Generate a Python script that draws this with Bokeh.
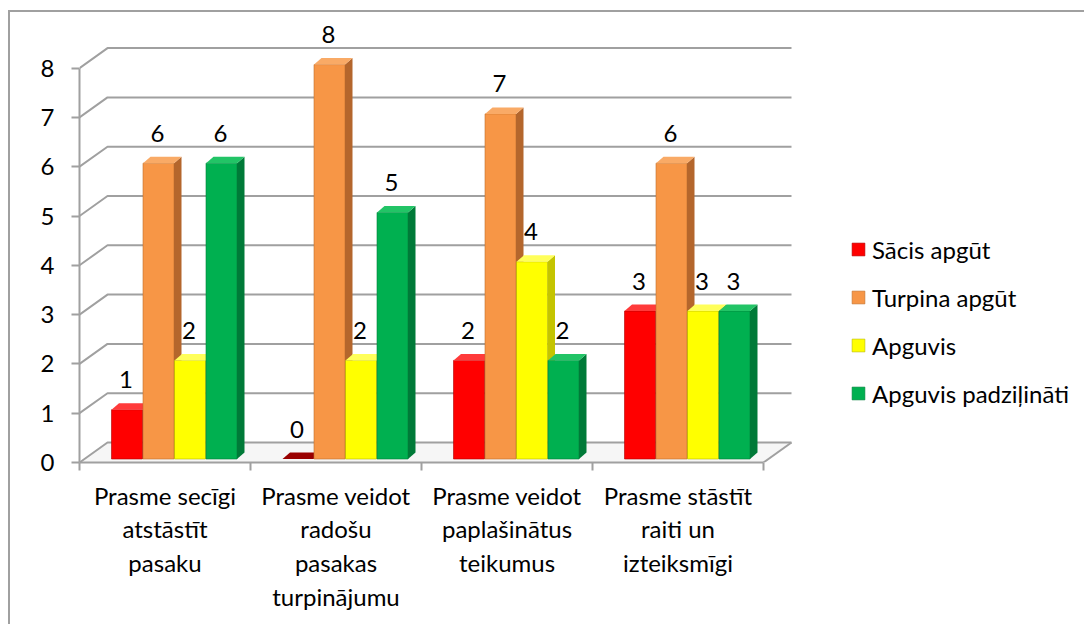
from bokeh.plotting import figure
from bokeh.models import Range1d, FixedTicker, Legend, LegendItem
from bokeh.core.properties import value
from bokeh.embed import file_html
from bokeh.resources import INLINE

# ---------------- data ----------------
categories = [
    "Prasme secīgi\natstāstīt\npasaku",
    "Prasme veidot\nradošu\npasakas\nturpinājumu",
    "Prasme veidot\npaplašinātus\nteikumus",
    "Prasme stāstīt\nraiti un\nizteiksmīgi",
]
series_names = ["Sācis apgūt", "Turpina apgūt", "Apguvis", "Apguvis padziļināti"]
sacis_apgut = [1, 0, 2, 3]
turpina_apgut = [6, 8, 7, 6]
apguvis = [2, 2, 4, 3]
apguvis_padzilinati = [6, 5, 2, 3]
y_ticks = [0, 1, 2, 3, 4, 5, 6, 7, 8]

series_values = [sacis_apgut, turpina_apgut, apguvis, apguvis_padzilinati]
front_colors = ["#FF0000", "#F79646", "#FFFF00", "#00B050"]
side_colors = ["#C00000", "#B4662C", "#C4C400", "#007A38"]
top_colors = ["#FF3A3A", "#F9AA66", "#FFFF5A", "#22C466"]
edge_colors = ["#B00000", "#C0702E", "#B8B800", "#00803A"]
zero_color = "#990000"

# ---------------- geometry (pixel scales) ----------------
PX_X = 171.0    # px per category
PX_Y = 49.3     # px per unit
DX = 28.0 / PX_X        # wall depth
DY = 20.0 / PX_Y
BDX = 7.5 / PX_X        # bar depth
BDY = 6.5 / PX_Y
B0 = 3.5 / PX_Y         # bar base lift
BAR_W = 31.0 / PX_X
BAR_OFF = 32.0 / PX_X
BAR_PITCH = 31.5 / PX_X
NCAT = len(categories)

W, H = 1076, 614
ML, MB = 69, 164
frame_w = W - ML
frame_h = H - MB

p = figure(width=W, height=H, output_backend="svg", toolbar_location=None,
           x_range=Range1d(0, frame_w / PX_X), y_range=Range1d(0, frame_h / PX_Y),
           min_border_left=ML, min_border_bottom=MB, min_border_top=0, min_border_right=0)
p.styles = {"border-top": "2px solid #A0A0A0", "border-left": "2px solid #A0A0A0",
            "margin-top": "10px", "margin-left": "8px"}
p.outline_line_color = None
p.xgrid.visible = False
p.ygrid.visible = False
p.background_fill_color = "white"
p.border_fill_color = "white"

GRID = "#A0A0A0"

# floor
p.patch([0, NCAT, NCAT + DX, DX], [0, 0, DY, DY], fill_color="#F6F6F6", line_color=None)
p.line([NCAT, NCAT + DX], [0, DY], line_color=GRID, line_width=2)

# wall gridlines
gx = [[0, DX, NCAT + DX] for _ in y_ticks]
gy = [[k, k + DY, k + DY] for k in y_ticks]
p.multi_line(gx, gy, line_color=GRID, line_width=2)

# bars
legend_items = []
for j, vals in enumerate(series_values):
    lefts = [i + BAR_OFF + j * BAR_PITCH for i in range(NCAT)]
    rights = [l + BAR_W for l in lefts]
    tops = [B0 + v for v in vals]
    nz = [i for i in range(NCAT) if vals[i] > 0]
    # front faces
    r = p.quad(left=[lefts[i] for i in nz], right=[rights[i] for i in nz],
               bottom=[B0] * len(nz), top=[tops[i] for i in nz],
               fill_color=front_colors[j], line_color=edge_colors[j], line_width=0.6)
    legend_items.append(LegendItem(label=series_names[j], renderers=[r], index=0))
    # side faces
    sx = [[rights[i], rights[i] + BDX, rights[i] + BDX, rights[i]] for i in nz]
    sy = [[B0, B0 + BDY, tops[i] + BDY, tops[i]] for i in nz]
    p.patches(sx, sy, fill_color=side_colors[j], line_color=None)
    # top faces
    tx = [[lefts[i], rights[i], rights[i] + BDX, lefts[i] + BDX] for i in range(NCAT)]
    ty = [[tops[i], tops[i], tops[i] + BDY, tops[i] + BDY] for i in range(NCAT)]
    tc = [top_colors[j] if vals[i] > 0 else zero_color for i in range(NCAT)]
    p.patches(tx, ty, fill_color=tc, line_color=None)
    # data labels
    p.text(x=[(l + r_) / 2 - 1.0 / PX_X for l, r_ in zip(lefts, rights)],
           y=[B0 + v + 30.0 / PX_Y for v in vals],
           text=[str(v) for v in vals],
           text_font=value("Lato"), text_font_size="24px", text_color="black",
           text_align="center", text_baseline="alphabetic")

# axes
ya = p.yaxis[0]
ya.ticker = FixedTicker(ticks=y_ticks)
ya.bounds = (0, max(y_ticks))
ya.axis_line_color = GRID
ya.axis_line_width = 2
ya.major_tick_line_color = GRID
ya.major_tick_line_width = 2
ya.major_tick_out = 8
ya.major_tick_in = 0
ya.minor_tick_line_color = None
ya.major_label_text_font = "Lato"
ya.major_label_text_font_size = "24px"
ya.major_label_text_color = "black"
ya.major_label_standoff = 17

xa = p.xaxis[0]
xa.ticker = FixedTicker(ticks=[i + 0.5 for i in range(NCAT)], minor_ticks=list(range(NCAT + 1)))
xa.bounds = (0, NCAT)
xa.major_label_overrides = {i + 0.5: categories[i] for i in range(NCAT)}
xa.axis_line_color = GRID
xa.axis_line_width = 2
xa.major_tick_line_color = None
xa.major_tick_out = 0
xa.major_tick_in = 0
xa.minor_tick_line_color = GRID
xa.minor_tick_line_width = 2
xa.minor_tick_out = 8
xa.minor_tick_in = 0
xa.major_label_text_font = "Lato"
xa.major_label_text_font_size = "24px"
xa.major_label_text_color = "black"
xa.major_label_text_line_height = 1.166
xa.major_label_standoff = 10

legend = Legend(items=legend_items, location=(771, 54), orientation="vertical",
                border_line_color=None, background_fill_alpha=0,
                padding=0, margin=0, spacing=18, glyph_width=16, glyph_height=16,
                label_height=30, label_standoff=6,
                label_text_font="Lato", label_text_font_size="24px",
                label_text_color="black")
p.add_layout(legend)

open("out.html", "w").write(file_html(p, INLINE))
